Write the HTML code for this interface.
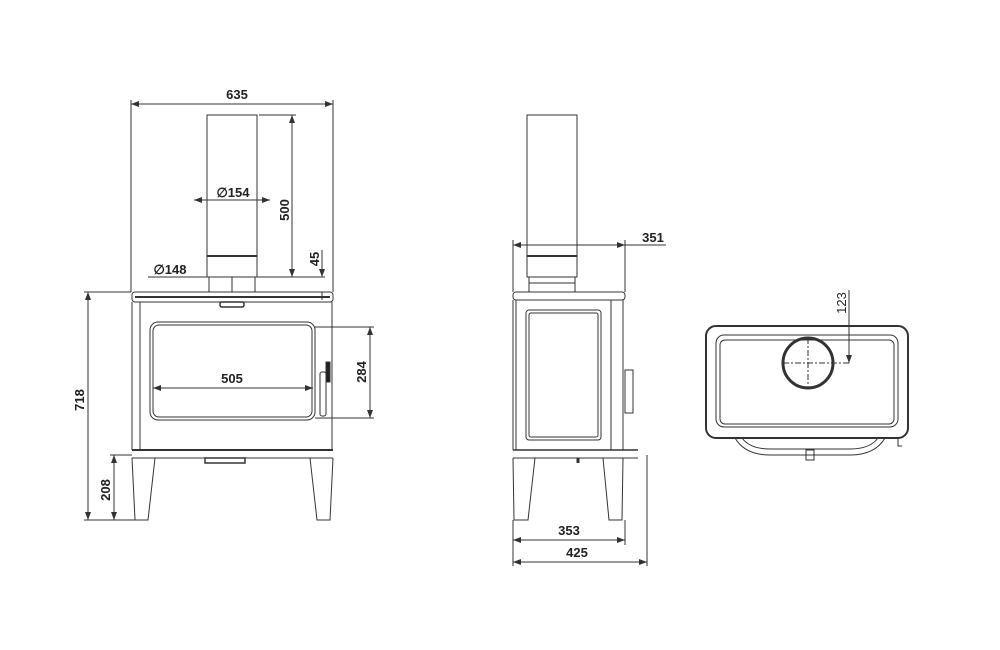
<!DOCTYPE html>
<html><head><style>
html,body{margin:0;padding:0;background:#fff;}
svg{display:block;}
text{font-family:"Liberation Sans",sans-serif;font-weight:bold;font-size:13px;fill:#222;}
</style></head><body>
<svg width="1000" height="650" viewBox="0 0 1000 650" xmlns="http://www.w3.org/2000/svg">
<defs>
<marker id="a" markerWidth="8" markerHeight="6" refX="8" refY="3" orient="auto-start-reverse" markerUnits="userSpaceOnUse"><path d="M0,0 L8,3 L0,6 z" fill="#333"/></marker>
</defs>
<g stroke="#333" fill="none" stroke-width="1">
<!-- FRONT VIEW -->
<!-- extension lines -->
<line x1="131" y1="100" x2="131" y2="292"/>
<line x1="333" y1="100" x2="333" y2="292"/>
<line x1="131" y1="104" x2="333" y2="104" marker-start="url(#a)" marker-end="url(#a)"/>
<!-- flue -->
<rect x="207" y="115" width="50" height="162"/>
<line x1="207" y1="256" x2="257" y2="256" stroke-width="2"/>
<line x1="207" y1="277" x2="257" y2="277"/>
<rect x="209" y="277" width="46" height="15"/>
<line x1="232" y1="277" x2="232" y2="292"/>
<!-- 500 -->
<line x1="259" y1="115" x2="296" y2="115"/>
<line x1="259" y1="277" x2="296" y2="277"/>
<line x1="292" y1="115" x2="292" y2="277" marker-start="url(#a)" marker-end="url(#a)"/>
<!-- 154 -->
<line x1="194" y1="200" x2="270" y2="200" marker-start="url(#a)" marker-end="url(#a)"/>
<!-- 148 / 45 -->
<line x1="148" y1="277" x2="325" y2="277"/>
<line x1="322" y1="250" x2="322" y2="277" marker-end="url(#a)"/>
<line x1="322" y1="292" x2="322" y2="300" />
<!-- top plate -->
<rect x="132" y="292" width="201" height="10" rx="3"/>
<line x1="135" y1="297" x2="330" y2="297" stroke-width="2"/>
<rect x="220" y="302" width="24" height="5" rx="2" stroke-width="1.5"/>
<!-- body -->
<line x1="132" y1="302" x2="132" y2="450"/>
<line x1="332" y1="302" x2="332" y2="450"/>
<line x1="140" y1="302" x2="140" y2="450"/>
<rect x="150" y="322" width="165" height="98" rx="8"/>
<rect x="153" y="325" width="159" height="92" rx="6"/>
<!-- 505 -->
<line x1="153" y1="388" x2="313" y2="388" marker-start="url(#a)" marker-end="url(#a)"/>
<!-- 284 -->
<line x1="315" y1="327" x2="374" y2="327"/>
<line x1="315" y1="418" x2="374" y2="418"/>
<line x1="370" y1="327" x2="370" y2="418" marker-start="url(#a)" marker-end="url(#a)"/>
<!-- handle -->
<rect x="320" y="372" width="6" height="44" rx="2"/>
<rect x="326" y="362" width="4" height="20" fill="#222"/>
<!-- plinth -->
<line x1="132" y1="450" x2="333" y2="450" stroke-width="2"/>
<line x1="132" y1="458" x2="333" y2="458"/>
<path d="M205 458 h40 v5 h-40 z" stroke-width="1.5"/>
<!-- legs -->
<path d="M132 458 L135 520 L148 520 L155 458"/>
<path d="M333 458 L330 520 L317 520 L310 458"/>
<!-- 718 -->
<line x1="84" y1="292" x2="131" y2="292"/>
<line x1="84" y1="520" x2="135" y2="520"/>
<line x1="88" y1="292" x2="88" y2="520" marker-start="url(#a)" marker-end="url(#a)"/>
<!-- 208 -->
<line x1="110" y1="455" x2="132" y2="455"/>
<line x1="114" y1="455" x2="114" y2="520" marker-start="url(#a)" marker-end="url(#a)"/>

<!-- SIDE VIEW -->
<rect x="527" y="115" width="50" height="162"/>
<line x1="527" y1="256" x2="577" y2="256" stroke-width="2"/>
<rect x="529" y="277" width="46" height="15"/>
<line x1="529" y1="283" x2="575" y2="283"/>
<line x1="513" y1="240" x2="513" y2="292"/>
<line x1="625" y1="240" x2="625" y2="292"/>
<line x1="513" y1="245" x2="625" y2="245" marker-start="url(#a)" marker-end="url(#a)"/>
<line x1="625" y1="245" x2="666" y2="245"/>
<rect x="513" y="292" width="112" height="8" rx="3"/>
<line x1="513" y1="300" x2="513" y2="450"/>
<line x1="611" y1="300" x2="611" y2="450"/>
<line x1="623" y1="300" x2="623" y2="450"/>
<line x1="516" y1="300" x2="516" y2="450"/>
<rect x="526" y="310" width="75" height="130" rx="3"/>
<rect x="529" y="313" width="69" height="124" rx="2"/>
<rect x="625" y="370" width="8" height="43"/>
<line x1="513" y1="450" x2="638" y2="450" stroke-width="1.5"/>
<line x1="513" y1="458" x2="638" y2="458"/>
<path d="M513 458 L514 520 L528 520 L535 458"/>
<path d="M623 458 L622 520 L609 520 L603 458"/>
<path d="M578 458 v5" stroke-width="3"/>
<line x1="513" y1="520" x2="513" y2="566"/>
<line x1="625" y1="520" x2="625" y2="545"/>
<line x1="647" y1="455" x2="647" y2="566"/>
<line x1="513" y1="540" x2="625" y2="540" marker-start="url(#a)" marker-end="url(#a)"/>
<line x1="513" y1="562" x2="647" y2="562" marker-start="url(#a)" marker-end="url(#a)"/>

<!-- TOP VIEW -->
<rect x="706" y="326" width="202" height="112" rx="10" stroke-width="2"/>
<rect x="716" y="335" width="182" height="92" rx="8"/>
<rect x="720" y="340" width="174" height="84" rx="5"/>
<circle cx="808" cy="363" r="25" stroke-width="3"/>
<line x1="783" y1="363" x2="849" y2="363" stroke-dasharray="6,2,2,2"/>
<line x1="808" y1="338" x2="808" y2="388" stroke-dasharray="6,2,2,2"/>
<line x1="849" y1="290" x2="849" y2="363" marker-end="url(#a)"/>
<path d="M735 438 Q745 455 770 455 L850 455 Q875 455 885 438"/>
<path d="M742 438 Q750 449 770 449 L850 449 Q870 449 878 438"/>
<rect x="806" y="450" width="8" height="10"/>
<path d="M898 438 v8 h4"/>
</g>
<g>
<text x="237" y="99" text-anchor="middle">635</text>
<text x="233" y="197" text-anchor="middle" font-size="13">∅154</text>
<text x="170" y="274" text-anchor="middle">∅148</text>
<text transform="translate(289,210) rotate(-90)" text-anchor="middle">500</text>
<text transform="translate(319,259) rotate(-90)" text-anchor="middle">45</text>
<text x="232" y="383" text-anchor="middle">505</text>
<text transform="translate(366,372) rotate(-90)" text-anchor="middle">284</text>
<text transform="translate(84,400) rotate(-90)" text-anchor="middle">718</text>
<text transform="translate(110,490) rotate(-90)" text-anchor="middle">208</text>
<text x="653" y="242" text-anchor="middle">351</text>
<text x="569" y="535" text-anchor="middle">353</text>
<text x="577" y="557" text-anchor="middle">425</text>
<text transform="translate(846,303) rotate(-90)" text-anchor="middle" style="font-weight:normal">123</text>
</g>
</svg>
</body></html>
